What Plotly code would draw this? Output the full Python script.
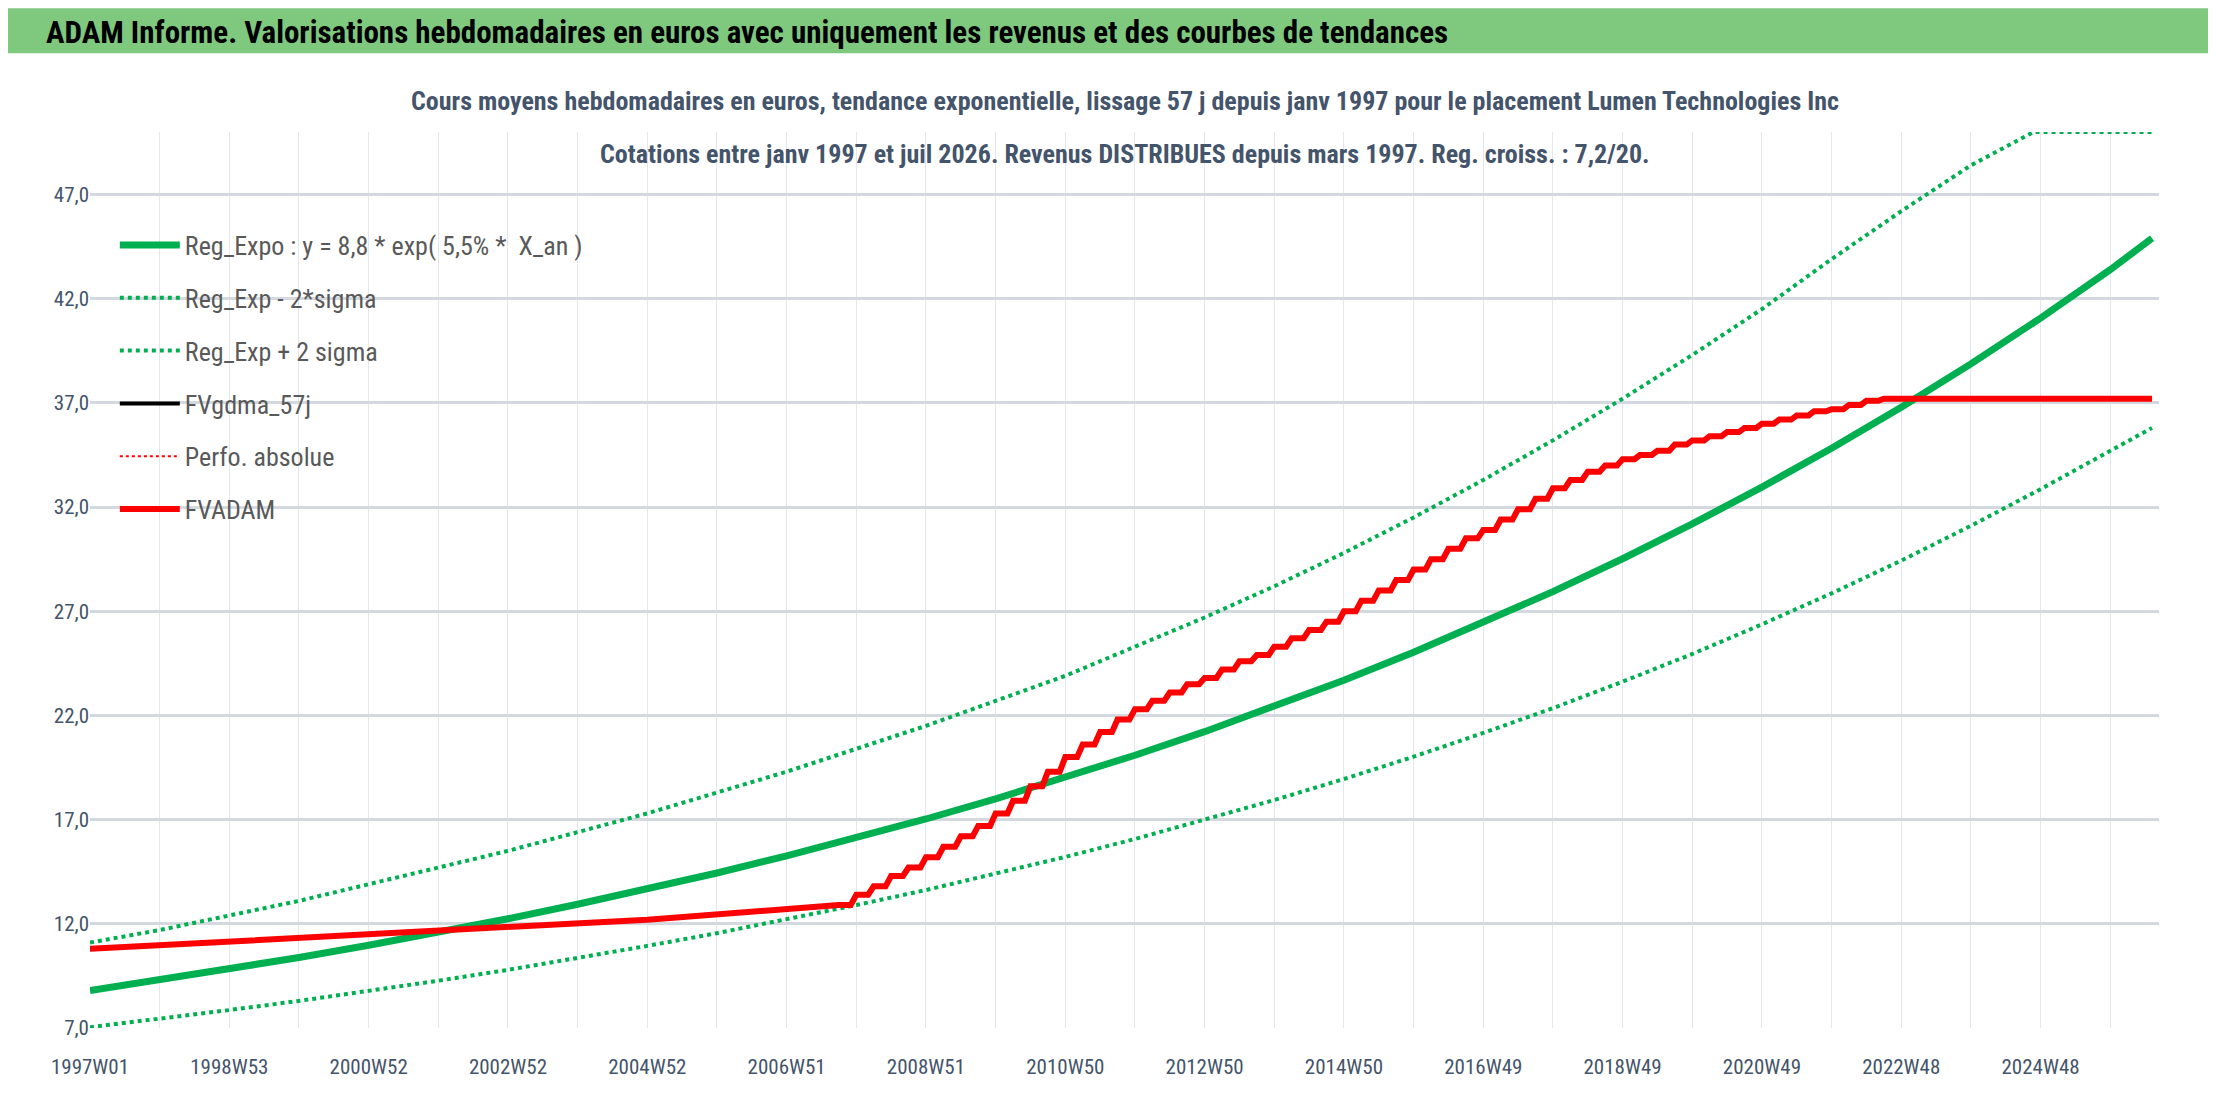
import plotly.graph_objects as go

# years since 1997W01
years = list(range(0, 30)) + [29.6]
reg_expo = [8.80, 9.30, 9.82, 10.38, 10.97, 11.59, 12.24, 12.94, 13.67, 14.44,
            15.26, 16.12, 17.03, 18.00, 19.01, 20.09, 21.22, 22.43, 23.69, 25.03,
            26.45, 27.94, 29.52, 31.19, 32.96, 34.82, 36.79, 38.87, 41.07, 43.39, 44.9]
reg_minus = [7.04, 7.44, 7.86, 8.30, 8.78, 9.27, 9.79, 10.35, 10.94, 11.55,
             12.21, 12.90, 13.62, 14.40, 15.21, 16.07, 16.98, 17.94, 18.95, 20.02,
             21.16, 22.35, 23.62, 24.95, 26.37, 27.86, 29.43, 31.10, 32.86, 34.71, 35.8]
plus_t = list(range(0, 28)) + [27.9, 29.6]
reg_plus = [11.1, 11.7, 12.4, 13.1, 13.9, 14.7, 15.5, 16.4, 17.3, 18.3,
            19.3, 20.4, 21.5, 22.7, 23.9, 25.3, 26.7, 28.2, 29.8, 31.5,
            33.3, 35.2, 37.2, 39.3, 41.5, 43.9, 46.2, 48.4, 50.0, 50.0]

# FVADAM: slow linear part, then quarterly steps
fv_lin_t = [0, 4, 8, 10.75]
fv_lin = [10.8, 11.5, 12.2, 12.9]
fv_q_t = [10.75 + 0.25 * i for i in range(61)]
fv_q = [12.9, 13.4, 13.8, 14.3, 14.7, 15.2, 15.7, 16.2, 16.7,
        17.3, 17.9, 18.6, 19.3, 20.0, 20.6, 21.2, 21.8,
        22.3, 22.7, 23.1, 23.5, 23.8, 24.2, 24.6, 24.9,
        25.3, 25.7, 26.1, 26.5, 27.0, 27.5, 28.0, 28.5,
        29.0, 29.5, 30.0, 30.5, 30.9, 31.4, 31.9, 32.4,
        32.9, 33.3, 33.7, 34.0, 34.3, 34.5, 34.7, 35.0,
        35.2, 35.4, 35.6, 35.8, 36.0, 36.2, 36.4, 36.6,
        36.7, 36.9, 37.1, 37.2]
fv_end_t = 29.6

tick_years = list(range(0, 30))
tick_text = ['1997W01', '', '1998W53', '', '2000W52', '', '2002W52', '', '2004W52', '',
             '2006W51', '', '2008W51', '', '2010W50', '', '2012W50', '', '2014W50', '',
             '2016W49', '', '2018W49', '', '2020W49', '', '2022W48', '', '2024W48', '']
y_ticks = [7, 12, 17, 22, 27, 32, 37, 42, 47]

# build stair path (short rise between quarterly plateaus)
fx, fy = list(fv_lin_t), list(fv_lin)
for i in range(1, len(fv_q)):
    fx += [fv_q_t[i] - 0.08, fv_q_t[i]]
    fy += [fv_q[i - 1], fv_q[i]]
fx.append(fv_end_t)
fy.append(fv_q[-1])

green = '#00b050'
font = 'Liberation Sans Narrow, Roboto Condensed, Arial Narrow, sans-serif'

fig = go.Figure()
fig.add_trace(go.Scatter(x=years, y=reg_expo, name='Reg_Expo : y = 8,8 * exp( 5,5% *  X_an )',
                         line=dict(color=green, width=7), legendgroup='a'))
fig.add_trace(go.Scatter(x=years, y=reg_minus, name='Reg_Exp - 2*sigma',
                         line=dict(color=green, width=4, dash='dot'), legendgroup='b'))
fig.add_trace(go.Scatter(x=plus_t, y=reg_plus, name='Reg_Exp + 2 sigma',
                         line=dict(color=green, width=4, dash='dot'), legendgroup='c'))
fig.add_trace(go.Scatter(x=fx, y=fy, name='FVgdma_57j',
                         line=dict(color='black', width=4), legendgroup='d'))
fig.add_trace(go.Scatter(x=fx, y=fy, name='Perfo. absolue',
                         line=dict(color='#ff0000', width=2, dash='dot'), legendgroup='e'))
fig.add_trace(go.Scatter(x=fx, y=fy, name='FVADAM',
                         line=dict(color='#ff0000', width=6), legendgroup='f'))

fig.update_layout(
    width=2216, height=1106,
    margin=dict(l=82, r=65, t=124, b=86),
    paper_bgcolor='white', plot_bgcolor='white',
    font=dict(family=font, color='#44546a', size=20),
    showlegend=True,
    legend=dict(x=0.012, y=0.9, xanchor='left', yanchor='top', bgcolor='rgba(0,0,0,0)',
                font=dict(size=26, color='#595959'), tracegroupgap=16, itemwidth=60),
    xaxis=dict(range=[0, 29.7], tickvals=tick_years, ticktext=tick_text, tickangle=0,
               showgrid=True, gridcolor='#e4e7ec', gridwidth=1, zeroline=False,
               ticks='', tickfont=dict(size=21, color='#44546a'), ticklabelstandoff=24),
    yaxis=dict(range=[7, 50], tickvals=y_ticks,
               ticktext=[('%.1f' % v).replace('.', ',') for v in y_ticks],
               showgrid=True, gridcolor='#d4d8df', gridwidth=3, zeroline=False,
               ticks='', tickfont=dict(size=21, color='#44546a')),
    shapes=[dict(type='rect', xref='paper', yref='paper', x0=-0.045, x1=1.035,
                 y0=1.088, y1=1.138, fillcolor='#7fc97f', line=dict(width=0), layer='below')],
    annotations=[
        dict(text='<b>ADAM Informe. Valorisations hebdomadaires en euros avec uniquement les revenus et des courbes de tendances</b>',
             xref='paper', yref='paper', x=-0.022, y=1.111, xanchor='left', yanchor='middle',
             showarrow=False, font=dict(size=31, color='black', family=font)),
        dict(text='<b>Cours moyens hebdomadaires en euros, tendance exponentielle, lissage 57 j depuis janv 1997 pour le placement Lumen Technologies Inc</b>',
             xref='paper', yref='paper', x=0.5, y=1.035, xanchor='center', yanchor='middle',
             showarrow=False, font=dict(size=26, color='#44546a', family=font)),
        dict(text='<b>Cotations entre janv 1997 et juil 2026. Revenus DISTRIBUES depuis mars 1997. Reg. croiss. : 7,2/20.</b>',
             xref='paper', yref='paper', x=0.5, y=0.976, xanchor='center', yanchor='middle',
             showarrow=False, font=dict(size=26, color='#44546a', family=font)),
    ],
)

fig.write_html('out.html')
